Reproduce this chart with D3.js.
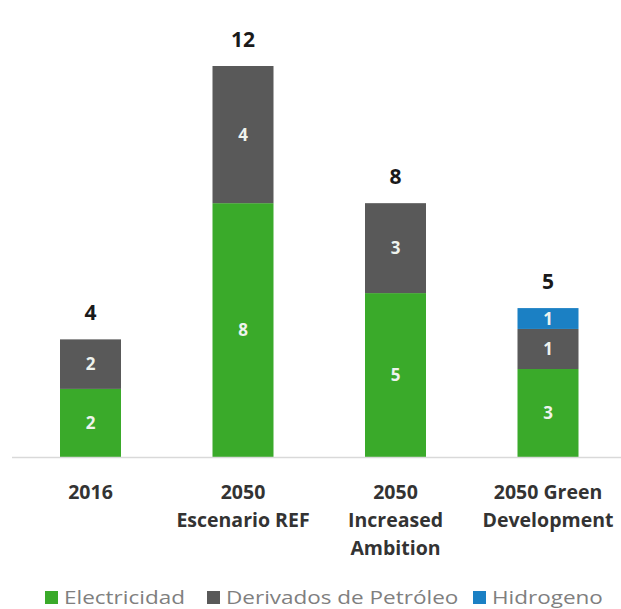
<!DOCTYPE html>
<html>
<head>
<meta charset="utf-8">
<script src="https://cdn.jsdelivr.net/npm/d3@7"></script>
<style>
  html, body { margin: 0; padding: 0; background: #fff; }
  svg { display: block; }
</style>
</head>
<body>
<svg id="chart" width="621" height="609"></svg>
<script>
// Categories (each entry is the list of lines of its axis label)
const categories = ["2016", "2050 Escenario REF", "2050 Increased Ambition", "2050 Green Development"];
const categoryLines = [["2016"], ["2050", "Escenario REF"], ["2050", "Increased", "Ambition"], ["2050 Green", "Development"]];

// Series values per category
const seriesNames = ["Electricidad", "Derivados de Petróleo", "Hidrogeno"];
const electricidad = [2.09, 7.79, 5.03, 2.70];
const derivados = [1.52, 4.21, 2.76, 1.23];
const hidrogeno = [0, 0, 0, 0.64];

const colors = ["#3aaa2a", "#595959", "#1b80c4"];

const svg = d3.select("#chart");
const baseline = 457;
const font = "'Open Sans', sans-serif";

const rows = categories.map((c, i) => ({
  cat: c,
  "Electricidad": electricidad[i],
  "Derivados de Petróleo": derivados[i],
  "Hidrogeno": hidrogeno[i]
}));

const stack = d3.stack().keys(seriesNames)(rows);
const totals = rows.map(r => d3.sum(seriesNames, k => r[k]));

const x = d3.scaleBand()
  .domain(categories)
  .range([14.25, 624.25])
  .paddingInner(0.6)
  .paddingOuter(0.3);

const y = d3.scaleLinear()
  .domain([0, 12])
  .range([baseline, 66]);

const color = d3.scaleOrdinal().domain(seriesNames).range(colors);
const fmt = v => d3.format(".0f")(v);

// stacked segments
const layers = svg.append("g").selectAll("g")
  .data(stack)
  .join("g")
  .attr("fill", d => color(d.key));

layers.selectAll("rect")
  .data(d => d.map(p => ({ key: d.key, p })).filter(d => d.p[1] - d.p[0] > 0))
  .join("rect")
  .attr("x", d => x(d.p.data.cat))
  .attr("width", x.bandwidth())
  .attr("y", d => y(d.p[1]))
  .attr("height", d => y(d.p[0]) - y(d.p[1]));

// segment value labels
layers.selectAll("text")
  .data(d => d.map(p => ({ key: d.key, p })).filter(d => d.p[1] - d.p[0] > 0))
  .join("text")
  .attr("x", d => x(d.p.data.cat) + x.bandwidth() / 2)
  .attr("y", d => (y(d.p[0]) + y(d.p[1])) / 2)
  .attr("dy", "0.36em")
  .attr("text-anchor", "middle")
  .attr("fill", "#eef3ee")
  .attr("font-family", font)
  .attr("font-weight", 700)
  .attr("font-size", 17)
  .text(d => fmt(d.p[1] - d.p[0]));

// baseline
svg.append("line")
  .attr("x1", 12).attr("x2", 621)
  .attr("y1", baseline + 0.5).attr("y2", baseline + 0.5)
  .attr("stroke", "#d9d9d9")
  .attr("stroke-width", 1.5);

// totals above the bars
svg.append("g").selectAll("text")
  .data(categories)
  .join("text")
  .attr("x", c => x(c) + x.bandwidth() / 2)
  .attr("y", (c, i) => y(totals[i]) - 27)
  .attr("dy", "0.36em")
  .attr("text-anchor", "middle")
  .attr("fill", "#1a1a1a")
  .attr("font-family", font)
  .attr("font-weight", 700)
  .attr("font-size", 21)
  .text((c, i) => fmt(totals[i]));

// category labels
const catG = svg.append("g").selectAll("text")
  .data(categories)
  .join("text")
  .attr("text-anchor", "middle")
  .attr("fill", "#333")
  .attr("font-family", font)
  .attr("font-weight", 700)
  .attr("font-size", 19.5);

catG.selectAll("tspan")
  .data((c, i) => categoryLines[i].map(line => ({ c, line })))
  .join("tspan")
  .attr("x", d => x(d.c) + x.bandwidth() / 2)
  .attr("y", (d, j) => 499 + j * 28)
  .text(d => d.line);

// legend
const legendX = [45, 207, 473];
const legend = svg.append("g").selectAll("g")
  .data(seriesNames)
  .join("g")
  .attr("transform", (d, i) => `translate(${legendX[i]},0)`);

legend.append("rect")
  .attr("x", 0).attr("y", 591)
  .attr("width", 13).attr("height", 13)
  .attr("fill", d => color(d));

legend.append("text")
  .attr("transform", "translate(19,597.5) scale(1.25,1)")
  .attr("dy", "0.36em")
  .attr("fill", "#7f7f7f")
  .attr("font-family", font)
  .attr("font-size", 18)
  .text(d => d);
</script>
</body>
</html>
